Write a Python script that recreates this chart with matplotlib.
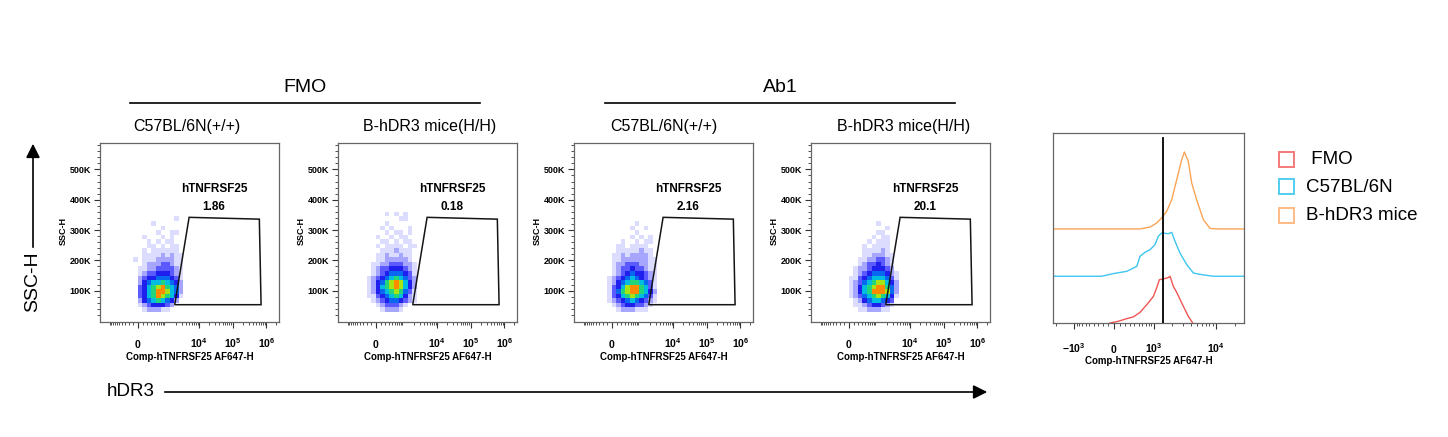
import numpy as np
import matplotlib
matplotlib.use('Agg')
import matplotlib.pyplot as plt
from matplotlib.colors import ListedColormap, BoundaryNorm
from matplotlib.patches import Polygon, Rectangle, FancyArrowPatch
from matplotlib.lines import Line2D

plt.rcParams['font.family'] = ['Liberation Sans', 'DejaVu Sans']
plt.rcParams['mathtext.fontset'] = 'custom'
plt.rcParams['mathtext.rm'] = 'Liberation Sans'
plt.rcParams['mathtext.bf'] = 'Liberation Sans:bold'

# ---------------- data ----------------
group_titles = ["FMO", "Ab1"]
panel_titles = ["C57BL/6N(+/+)", "B-hDR3 mice(H/H)", "C57BL/6N(+/+)", "B-hDR3 mice(H/H)"]
gate_name = "hTNFRSF25"
gate_pcts = ["1.86", "0.18", "2.16", "20.1"]
gate_x = [1870, 5040, 623000, 702000]
gate_y = [54000, 342000, 336000, 54000]
x_axis_label = "Comp-hTNFRSF25 AF647-H"
y_axis_label = "SSC-H"

# density bins (event density levels 0-9, rows from 360K down to 30K)
x_edges = [-320, -200, -95, 0, 95, 200, 320, 480, 680, 940, 1300, 1780, 2430, 3330, 4540, 6190]
y_edges = list(range(30000, 360001, 15000))

grid_p1 = [
    "000000000000000",
    "000000000001000",
    "000000100000000",
    "000000001000000",
    "000000010011000",
    "000010001010000",
    "000001010110000",
    "000001101011000",
    "000010111111000",
    "000011112121100",
    "001011122221100",
    "000012223321100",
    "000112233332100",
    "000123344432100",
    "000234455543100",
    "000245667654200",
    "000346789765200",
    "000346799865200",
    "000346798764100",
    "000245676542000",
    "000123444320000",
    "000012221100000",
]
grid_p2 = [
    "000001010100000",
    "000000001100000",
    "000001000000000",
    "000010100010000",
    "000001011010000",
    "000100101100000",
    "000011010110000",
    "000101111011000",
    "000011121110000",
    "000112112110000",
    "000112222210000",
    "001122333221000",
    "001233444321000",
    "001234555431000",
    "012345676532000",
    "012457898642000",
    "012467898642000",
    "012456787531000",
    "011345676421000",
    "001234554321000",
    "000123332100000",
    "000012221000000",
]
grid_p3 = [
    "000000000000000",
    "000000000000000",
    "000000001000000",
    "000000010010000",
    "000000001000000",
    "000000010101000",
    "000001001011000",
    "000011011110000",
    "000011111211000",
    "000112122221000",
    "000112222221100",
    "000122333221100",
    "000123343321100",
    "000123454432100",
    "001234565432100",
    "001245677653100",
    "001346899763100",
    "001357899764200",
    "001346787653100",
    "001234565432100",
    "000123443321000",
    "000012221110000",
]
grid_p4 = [
    "000000000000000",
    "000000000000000",
    "000000000100000",
    "000000000001000",
    "000000000110000",
    "000000001011000",
    "000000010111000",
    "000000101111000",
    "000000111121000",
    "000000112221100",
    "000001122332100",
    "000001233432100",
    "000012234443200",
    "000012345554210",
    "000113456665310",
    "000123567886420",
    "000124678997520",
    "000124679998520",
    "000123567876410",
    "000012456654300",
    "000011234432100",
    "000001122211000",
]
grids = [grid_p1, grid_p2, grid_p3, grid_p4]

# histogram overlay
hist_names = [" FMO", "C57BL/6N", "B-hDR3 mice"]
fmo_x = [-72, 77, 236, 376, 539, 735, 975, 1110, 1240, 1441, 1749, 1866, 2110, 2396, 3067, 3685, 4336]
fmo_h = [0, 0.9, 2.3, 3.2, 5.6, 9.6, 14.0, 18.4, 22.8, 23.2, 23.9, 24.6, 19.3, 16.1, 8.8, 3.5, 0]
c57_x = [-2250, -228, -12, 236, 455, 539, 680, 850, 1040, 1186, 1357, 1749, 1990, 2250, 2710, 3480, 4440, 6400, 9240, 28300]
c57_h = [0, 0, 1.4, 2.6, 5.2, 10.5, 12.6, 14.0, 16.6, 21.0, 22.8, 22.4, 23.1, 18.4, 12.2, 6.1, 1.7, 0.7, 0, 0]
hdr3_x = [-2250, 539, 850, 1110, 1357, 1645, 1990, 2396, 2890, 3185, 3685, 4175, 5000, 6400, 8180, 10460, 28300]
hdr3_h = [0, 0, 1.0, 3.1, 5.8, 9.3, 15.4, 25.9, 36.5, 40.5, 35.6, 24.2, 15.4, 4.9, 0.3, 0, 0]
hist_gate = 1430

# ---------------- layout / style ----------------
W, H = 1448, 437
fig = plt.figure(figsize=(W / 100, H / 100), dpi=100)

def fx(px):
    return px / W

def fy(py):
    return 1 - py / H

density_colors = ['#dcdcff', '#a6a6ff', '#5a5aff', '#2020ee', '#0868f0',
                  '#00bce0', '#22d47a', '#a8e414', '#ff8a00']
cmap = ListedColormap(density_colors)
norm = BoundaryNorm(np.arange(0.5, 10.5, 1.0), cmap.N)
spine_col = '#666666'

panel_left_px = [100, 338, 574, 811]
panel_top, panel_bot, panel_w = 143, 322, 179

dot_minor = ([-v for v in range(100, 1001, 100)] + list(range(100, 1000, 100))
             + list(range(2000, 10000, 1000)) + list(range(20000, 100000, 10000))
             + list(range(200000, 1000000, 100000)) + [2000000])

for i in range(4):
    ax = fig.add_axes([fx(panel_left_px[i]), fy(panel_bot), panel_w / W, (panel_bot - panel_top) / H])
    ax.set_xscale('asinh', linear_width=300)
    ax.set_xlim(-2000, 2.4e6)
    ax.set_ylim(-3000, 587000)
    C = np.array([[int(ch) for ch in row] for row in grids[i]])[::-1]
    Cm = np.ma.masked_equal(C, 0)
    ax.pcolormesh(x_edges, y_edges, Cm, cmap=cmap, norm=norm, shading='flat', zorder=1)
    ax.add_patch(Polygon(list(zip(gate_x, gate_y)), closed=True, fill=False,
                         ec='#151515', lw=1.1, zorder=3))
    ax.text(0.637, 0.741, gate_name, transform=ax.transAxes, ha='center', va='center',
            fontsize=8.5, fontweight='bold')
    ax.text(0.637, 0.641, gate_pcts[i], transform=ax.transAxes, ha='center', va='center',
            fontsize=8.5, fontweight='bold')
    ax.set_xticks([0, 1e4, 1e5, 1e6],
                  labels=[r'$\mathbf{0}$', r'$\mathbf{10^4}$', r'$\mathbf{10^5}$', r'$\mathbf{10^6}$'],
                  fontsize=7.5)
    ax.set_xticks(dot_minor, minor=True)
    ax.set_yticks([100000, 200000, 300000, 400000, 500000],
                  labels=['100K', '200K', '300K', '400K', '500K'], fontsize=6.5, fontweight='bold')
    ax.set_yticks(list(range(20000, 581000, 20000)), minor=True)
    ax.tick_params(axis='both', which='major', direction='out', length=4, width=0.8, color='#333333')
    ax.tick_params(axis='both', which='minor', direction='out', length=2, width=0.6, color='#333333')
    ax.tick_params(axis='x', which='major', pad=14.9)
    ax.tick_params(axis='y', which='major', pad=2.5)
    for t in ax.xaxis.get_major_ticks():
        t.label1.set_verticalalignment('baseline')
    for s in ax.spines.values():
        s.set_color(spine_col)
        s.set_linewidth(0.9)
    ax.set_xlabel(x_axis_label, fontsize=7, fontweight='bold')
    ax.xaxis.set_label_coords(0.5, -0.165)
    ax.set_ylabel(y_axis_label, fontsize=6.5, fontweight='bold')
    ax.yaxis.set_label_coords(-0.18, 0.51)

# ---- histogram overlay ----
hax = fig.add_axes([fx(1053), fy(323), 191 / W, 190 / H])
hax.set_xscale('asinh', linear_width=490)
hax.set_xlim(-2250, 28300)
hax.set_ylim(0, 100)
hist_cols = ['#f05555', '#3ec6ef', '#f9a456']
hist_base = [0, 24.6, 49.5]
for xs, hs, base, col in zip([fmo_x, c57_x, hdr3_x], [fmo_h, c57_h, hdr3_h], hist_base, hist_cols):
    hax.plot(xs, np.array(hs) + base, color=col, lw=1.0, zorder=2)
hax.plot([hist_gate, hist_gate], [0, 97.4], color='black', lw=1.3, zorder=3)
hax.set_xticks([-1e3, 0, 1e3, 1e4],
               labels=[r'$\mathbf{-10^3}$', r'$\mathbf{0}$', r'$\mathbf{10^3}$', r'$\mathbf{10^4}$'],
               fontsize=7.5)
hax.set_xticks([-2000] + [-v for v in range(100, 1000, 100)] + list(range(100, 1000, 100))
               + list(range(2000, 10000, 1000)) + [20000], minor=True)
hax.set_yticks([])
hax.tick_params(axis='x', which='major', direction='out', length=4, width=0.8, color='#333333', pad=17.3)
hax.tick_params(axis='x', which='minor', direction='out', length=2, width=0.6, color='#333333')
for t in hax.xaxis.get_major_ticks():
    t.label1.set_verticalalignment('baseline')
for s in hax.spines.values():
    s.set_color(spine_col)
    s.set_linewidth(0.9)
hax.set_xlabel(x_axis_label, fontsize=7, fontweight='bold')
hax.xaxis.set_label_coords(0.5, -0.172)

# ---- legend ----
legend_cols = ['#f47a7a', '#52cdf0', '#fdbb85']
legend_y = [159, 187, 215]
for name, col, yy in zip(hist_names, legend_cols, legend_y):
    fig.add_artist(Rectangle((fx(1279), fy(yy + 7.5)), 15 / W, 15 / H, transform=fig.transFigure,
                             fill=False, ec=col, lw=1.4))
    fig.text(fx(1306), fy(yy), name, ha='left', va='center', fontsize=13.5)

# ---- group titles and subtitles ----
group_centers = [305, 780]
group_lines = [(130, 480), (605, 955)]
for t, c, (a, b) in zip(group_titles, group_centers, group_lines):
    fig.text(fx(c), fy(87), t, ha='center', va='center', fontsize=14)
    fig.add_artist(Line2D([fx(a), fx(b)], [fy(103), fy(103)], transform=fig.transFigure,
                          color='black', lw=1.2))
sub_centers = [187, 430, 664, 904]
for t, c in zip(panel_titles, sub_centers):
    fig.text(fx(c), fy(126), t, ha='center', va='center', fontsize=11.5)

# ---- big axis arrows ----
fig.text(fx(33), fy(282), "SSC-H", rotation=90, ha='center', va='center', fontsize=14)
fig.add_artist(FancyArrowPatch((fx(33), fy(250)), (fx(33), fy(141)), transform=fig.transFigure,
                               arrowstyle='-|>,head_length=0.6,head_width=0.3', mutation_scale=14,
                               color='black', lw=1.2))
fig.text(fx(107), fy(392), "hDR3", ha='left', va='center', fontsize=13.5)
fig.add_artist(FancyArrowPatch((fx(162), fy(392)), (fx(990), fy(392)), transform=fig.transFigure,
                               arrowstyle='-|>,head_length=0.6,head_width=0.3', mutation_scale=14,
                               color='black', lw=1.2))

fig.savefig('out.png', dpi=100)
